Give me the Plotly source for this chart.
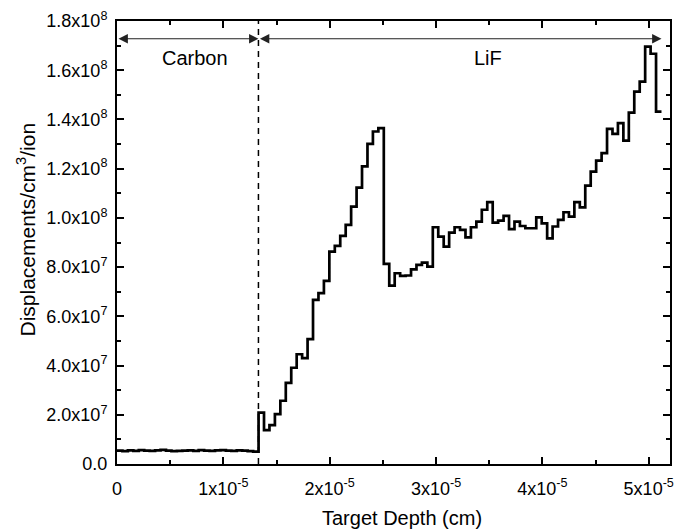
import numpy as np
import plotly.graph_objects as go

# SRIM-style depth histogram, 100 bins (26 carbon + 74 LiF)
bin_width = 5.12e-7
carbon_disp = [5.4e6, 5.2e6, 5.5e6, 5.3e6, 5.6e6, 5.4e6, 5.3e6, 5.5e6, 5.7e6, 5.4e6,
               5.2e6, 5.3e6, 5.4e6, 5.5e6, 5.3e6, 5.6e6, 5.4e6, 5.3e6, 5.5e6, 5.6e6,
               5.4e6, 5.3e6, 5.5e6, 5.4e6, 5.2e6, 5.0e6]
lif_disp = [2.09e7, 1.38e7, 1.58e7, 2.03e7, 2.57e7, 3.30e7, 3.91e7, 4.46e7, 4.30e7, 5.07e7,
            6.67e7, 6.94e7, 7.44e7, 8.63e7, 8.86e7, 9.27e7, 9.72e7, 1.046e8, 1.123e8, 1.209e8,
            1.301e8, 1.351e8, 1.365e8, 8.13e7, 7.25e7, 7.75e7, 7.64e7, 7.66e7, 7.91e7, 8.09e7,
            8.18e7, 8.02e7, 9.62e7, 9.24e7, 8.83e7, 9.40e7, 9.62e7, 9.51e7, 9.21e7, 9.62e7,
            9.85e7, 1.033e8, 1.064e8, 9.81e7, 9.89e7, 1.008e8, 9.54e7, 9.85e7, 9.67e7, 9.58e7,
            9.58e7, 1.002e8, 9.78e7, 9.17e7, 9.65e7, 9.92e7, 1.023e8, 1.005e8, 1.064e8, 1.043e8,
            1.131e8, 1.188e8, 1.233e8, 1.263e8, 1.362e8, 1.341e8, 1.385e8, 1.314e8, 1.428e8, 1.513e8,
            1.554e8, 1.696e8, 1.667e8, 1.432e8]

interface_depth = 1.33e-5
arrow_y = 1.728e8

x_ticks = [0, 1e-5, 2e-5, 3e-5, 4e-5, 5e-5]
x_labels = ["0", "1x10<sup>-5</sup>", "2x10<sup>-5</sup>", "3x10<sup>-5</sup>",
            "4x10<sup>-5</sup>", "5x10<sup>-5</sup>"]
y_ticks = [0, 2e7, 4e7, 6e7, 8e7, 1e8, 1.2e8, 1.4e8, 1.6e8, 1.8e8]
y_labels = ["0.0", "2.0x10<sup>7</sup>", "4.0x10<sup>7</sup>", "6.0x10<sup>7</sup>",
            "8.0x10<sup>7</sup>", "1.0x10<sup>8</sup>", "1.2x10<sup>8</sup>",
            "1.4x10<sup>8</sup>", "1.6x10<sup>8</sup>", "1.8x10<sup>8</sup>"]

values = carbon_disp + lif_disp
edges = np.arange(len(values) + 1) * bin_width
x = list(edges)
y = values + [values[-1]]

fig = go.Figure(go.Scatter(x=x, y=y, mode="lines", line_shape="hv",
                           line=dict(color="black", width=2.7), showlegend=False))

fig.add_shape(type="line", x0=interface_depth, x1=interface_depth, y0=0, y1=1.8e8,
              line=dict(color="black", width=1.5, dash="6px,5px"))

for x_head, x_tail in [(0, interface_depth), (interface_depth, edges[-1])]:
    fig.add_annotation(x=x_tail, y=arrow_y, ax=x_head, ay=arrow_y, xref="x", yref="y",
                       axref="x", ayref="y", text="", showarrow=True, arrowhead=2,
                       arrowside="end+start", arrowsize=1.7, arrowwidth=1.1,
                       arrowcolor="#222")

fig.add_annotation(x=0.73e-5, y=1.65e8, text="Carbon", showarrow=False,
                   font=dict(size=20, color="black"))
fig.add_annotation(x=3.49e-5, y=1.65e8, text="LiF", showarrow=False,
                   font=dict(size=20, color="black"))

# axis titles as annotations so they sit where the original puts them
fig.add_annotation(x=0.515, y=-0.122, xref="paper", yref="paper", text="Target Depth (cm)",
                   xanchor="center", yanchor="middle", showarrow=False,
                   font=dict(size=20, color="black"))
fig.add_annotation(x=-0.164, y=0.53, xref="paper", yref="paper", textangle=-90,
                   text="Displacements/cm<sup>3</sup>/ion", xanchor="center",
                   yanchor="middle", showarrow=False,
                   font=dict(size=21, color="black"))

axis_common = dict(showline=True, linecolor="black", linewidth=2, mirror="ticks",
                   ticks="inside", ticklen=7, tickwidth=2, tickcolor="black",
                   showgrid=False, zeroline=False, automargin=False,
                   tickfont=dict(size=18, color="black"))

fig.update_xaxes(range=[0, 5.2e-5], tickvals=x_ticks, ticktext=x_labels,
                 ticklabelstandoff=7,
                 minor=dict(tickvals=[0.5e-5, 1.5e-5, 2.5e-5, 3.5e-5, 4.5e-5],
                            ticks="inside", ticklen=4, tickwidth=2, tickcolor="black"),
                 **axis_common)
fig.update_yaxes(range=[0, 1.8e8], tickvals=y_ticks, ticktext=y_labels,
                 ticklabelstandoff=4,
                 minor=dict(tickvals=[1e7, 3e7, 5e7, 7e7, 9e7, 1.1e8, 1.3e8, 1.5e8, 1.7e8],
                            ticks="inside", ticklen=4, tickwidth=2, tickcolor="black"),
                 **axis_common)

# page body adds an 8 px offset, margins compensate for it
fig.update_layout(width=686, height=531, plot_bgcolor="white", paper_bgcolor="white",
                  font=dict(family="Liberation Sans, Arial, sans-serif"),
                  margin=dict(l=109, r=24, t=13, b=75))

fig.write_html("out.html")
